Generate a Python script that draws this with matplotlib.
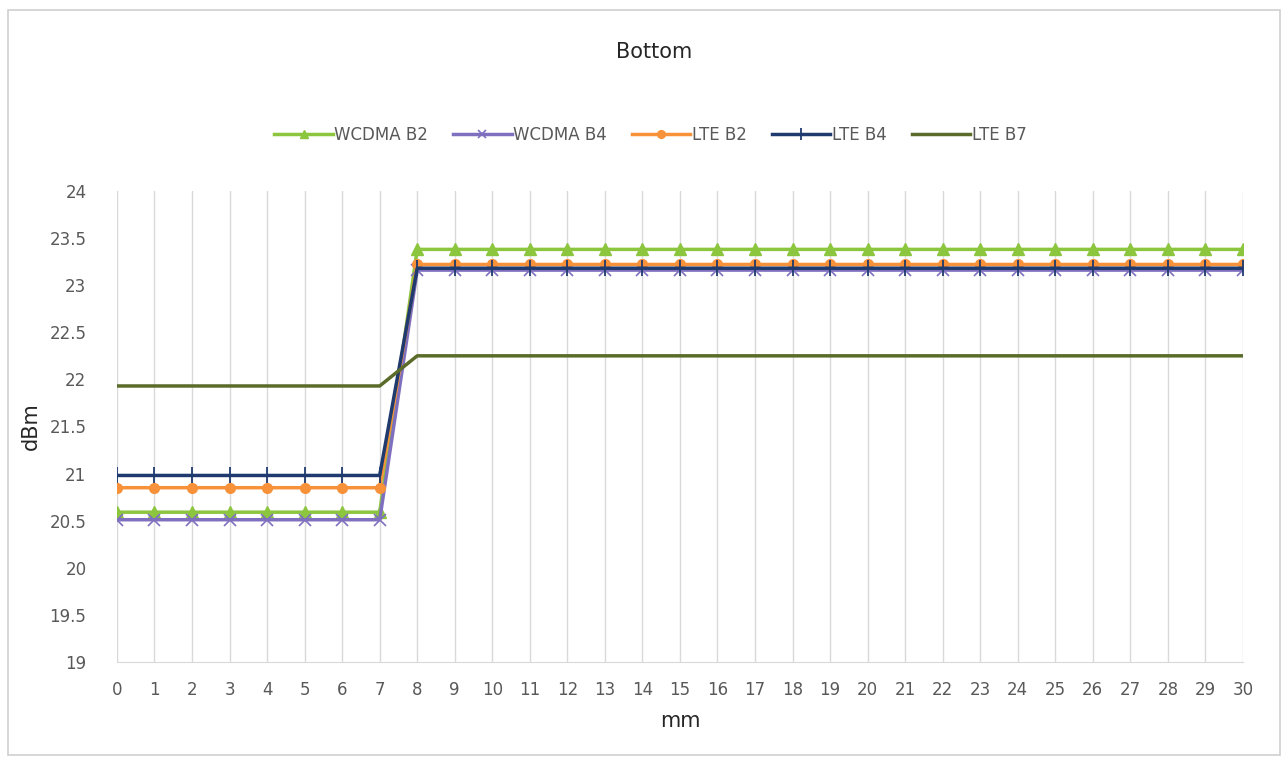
import numpy as np
import matplotlib.pyplot as plt

# mesures (dBm) en fonction de la distance (mm)
mm = list(range(0, 31))
wcdma_b2 = [20.59] * 8 + [23.38] * 23
wcdma_b4 = [20.51] * 8 + [23.16] * 23
lte_b2 = [20.85] * 8 + [23.22] * 23
lte_b4 = [20.98] * 8 + [23.18] * 23
lte_b7 = [21.93] * 8 + [22.25] * 23

fig = plt.figure(figsize=(12.88, 7.63), dpi=100)
ax = fig.add_axes([0.0908, 0.1324, 0.8742, 0.6173])

# cadre gris autour du graphique
fig.patches.append(plt.Rectangle((0.006, 0.01), 0.988, 0.977, transform=fig.transFigure,
                                 fill=False, edgecolor='#d0d0d0', linewidth=1.2))

ax.plot(mm, wcdma_b2, color='#8cc63e', linewidth=2.5, marker='^', markersize=8, label='WCDMA B2')
ax.plot(mm, wcdma_b4, color='#7f6fbf', linewidth=2.5, marker='x', markersize=8,
        markeredgewidth=1.2, label='WCDMA B4')
ax.plot(mm, lte_b2, color='#f7923a', linewidth=2.5, marker='o', markersize=7, label='LTE B2')
ax.plot(mm, lte_b4, color='#1f3a6e', linewidth=2.5, marker='|', markersize=11,
        markeredgewidth=1.3, label='LTE B4')
ax.plot(mm, lte_b7, color='#5a6b2a', linewidth=2.5, label='LTE B7')

ax.set_xlim(0, 30)
ax.set_ylim(19, 24)
ax.set_xticks(mm)
ax.set_yticks(np.arange(19, 24.01, 0.5))
ax.set_yticklabels(['19', '19.5', '20', '20.5', '21', '21.5', '22', '22.5', '23', '23.5', '24'])
ax.grid(axis='x', color='#d9d9d9', linewidth=1)
ax.set_axisbelow(True)
for s in ['top', 'right', 'left']:
    ax.spines[s].set_visible(False)
ax.spines['bottom'].set_color('#d9d9d9')
ax.tick_params(length=0, labelsize=12, colors='#595959', pad=14)
ax.tick_params(axis='y', pad=22)

ax.set_xlabel('mm', fontsize=15, color='#262626', labelpad=8)
ax.set_ylabel('dBm', fontsize=15, color='#262626')
ax.yaxis.set_label_coords(-0.068, 0.5)

fig.text(0.508, 0.932, 'Bottom', ha='center', va='center', fontsize=15, color='#262626')
fig.legend(loc='center', bbox_to_anchor=(0.505, 0.823), ncol=5, frameon=False,
           fontsize=12, handlelength=3.5, columnspacing=1.5, handletextpad=0.1,
           labelcolor='#595959', markerscale=0.8)

fig.savefig('out.png', dpi=100)
